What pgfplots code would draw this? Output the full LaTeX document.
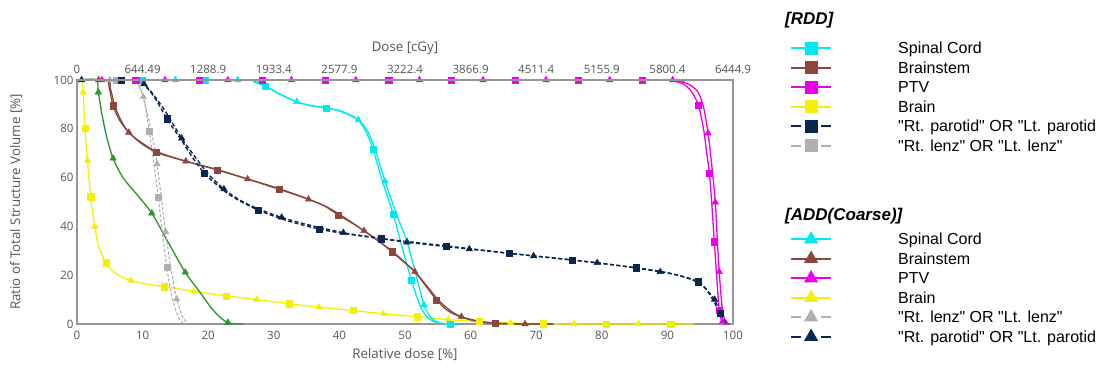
\documentclass[border=0pt]{standalone}
\usepackage{fontspec}
\setmainfont{Open Sans}
\newfontfamily\legfont{Liberation Sans}
\usepackage{pgfplots}
\pgfplotsset{compat=1.18}
\definecolor{cCyan}{RGB}{0,232,240}
\definecolor{cBrown}{RGB}{140,70,62}
\definecolor{cMag}{RGB}{236,0,236}
\definecolor{cYel}{RGB}{245,240,0}
\definecolor{cNavy}{RGB}{8,38,80}
\definecolor{cGray}{RGB}{175,175,175}
\definecolor{cGreen}{RGB}{40,150,40}
\definecolor{cTxt}{RGB}{85,85,85}
\definecolor{cAx}{RGB}{150,150,150}
\pgfplotsset{
  base/.style={scale only axis, width=656pt, height=244pt,
    xmin=0, xmax=100, ymin=0, ymax=100, clip=false,
    major tick length=0pt, /pgf/number format/assume math mode=true,
    tick label style={font=\fontsize{11.5}{13}\selectfont, text=cTxt},
    label style={font=\fontsize{13.3}{15}\selectfont, text=cTxt},
    axis line style={cAx, line width=1.2pt}},
  legcfg/.style={legend cell align=left,
    legend style={draw=none, fill=none, inner sep=0pt, outer sep=0pt, anchor=north west,
      font=\legfont\fontsize{16}{18}\selectfont, row sep=3.5pt,
      nodes={inner sep=0pt, text height=13.5pt, text depth=2.5pt},
      /tikz/every odd column/.append style={column sep=66pt}},
    legend image code/.code={\draw[mark repeat=2,mark phase=2,##1] plot coordinates {(0pt,0pt) (20pt,0pt) (40pt,0pt)};}},
  ln/.style={line width=1.3pt, smooth, tension=0.5, forget plot},
  mk/.style={only marks, mark size=#1, forget plot},
  sq/.style={mark=square*, mark size=3.1pt, only marks, forget plot},
  tr/.style={mark=triangle*, mark size=3.8pt, only marks, forget plot},
}
\begin{document}
\begin{tikzpicture}
\begin{axis}[base, legcfg,
  xtick={0,10,...,100}, ytick={0,20,...,100},
  xticklabel style={anchor=center, yshift=-11pt},
  xlabel={Relative dose [\%]}, ylabel={Ratio of Total Structure Volume [\%]},
  xlabel style={at={(axis description cs:0.5,-0.127)}, anchor=center},
  ylabel style={at={(axis description cs:-0.093,0.5)}, anchor=center},
  legend style={at={(1.0869,1.1627)}}]
% ---- Brain (yellow)
\addplot[ln, cYel] coordinates {(0,100) (0.7,100) (0.95,95) (1.2,80.2) (1.6,67) (2.08,52.2) (2.7,40) (3.4,31) (4.42,25.1) (5.5,21.5) (6.8,19.3) (8.2,17.8) (10.5,16.4) (13.3,15.3) (17.8,13.4) (22.8,11.5) (27.4,10.0) (32.4,8.3) (36.9,6.9) (42.1,5.5) (46.7,4.2) (51.8,3.0) (56.6,1.8) (61.3,1.0) (66.1,0.4) (71.1,0.15) (75.8,0) (94,0)};
\addplot[sq, cYel] coordinates {(1.2,80.2) (2.08,52.2) (4.42,25.1) (13.3,15.3) (22.8,11.5) (32.4,8.3) (42.1,5.5) (51.8,3.0) (61.3,1.0) (71.1,0.15) (80.7,0) (90.5,0)};
\addplot[tr, cYel] coordinates {(0.95,95) (1.6,67) (2.7,40) (8.2,17.8) (17.8,13.4) (27.4,10.0) (36.9,6.9) (46.7,4.2) (56.6,1.8) (66.1,0.4) (75.8,0) (85.6,0)};
% ---- green
\addplot[ln, cGreen] coordinates {(0,100) (2.9,100) (3.25,95) (3.8,86) (4.5,77) (5.5,67.9) (7,60) (9,53.5) (11.4,45.4) (14,33) (16.5,21.2) (18.75,13) (20.5,6.5) (22,2.3) (23,0.6) (24,0.1) (25.4,0)};
\addplot[tr, cGreen] coordinates {(3.25,95) (5.5,67.9) (11.4,45.4) (16.5,21.2) (23,0.6)};
% ---- lenz (gray dashed)
\addplot[ln, cGray, line width=1.1pt, dash pattern=on 3pt off 2pt] coordinates {(0,100) (8.0,100) (9.2,98.5) (10.2,92) (11.0,79.1) (11.7,66) (12.4,52) (13.0,37.5) (13.7,23.2) (14.4,12) (15.2,4.5) (15.8,1.2) (16.3,0)};
\addplot[ln, cGray, line width=1.1pt, dash pattern=on 3pt off 2pt] coordinates {(0,100) (8.6,100) (9.4,98) (10.1,93.1) (11.0,83) (11.7,74) (12.2,65.6) (12.9,51) (13.5,37.8) (14.3,23) (15.2,10.2) (16.2,2.5) (17.0,0)};
\addplot[sq, cGray] coordinates {(6.0,100) (11.0,79.1) (12.4,52) (13.7,23.2)};
\addplot[tr, cGray] coordinates {(5.0,100) (10.1,93.1) (12.2,65.6) (13.5,37.8) (15.2,10.2)};
% ---- Spinal cord (cyan)
\addplot[ln, cCyan] coordinates {(0,100) (26.2,100) (27.5,99) (28.7,97.5) (30.5,94.8) (32.5,92.2) (34.5,90.2) (36.2,89.2) (37.95,88.5) (40,87.5) (41.8,85.5) (42.9,83.6) (44,79) (45.1,71.8) (46.5,59) (48.2,45.1) (49.6,31) (51.0,17.8) (52.3,7.5) (53.5,2.5) (55,0.5) (56.9,0) (58,0)};
\addplot[ln, cCyan] coordinates {(0,100) (25.5,100) (27,99.2) (29,97) (31.5,93.5) (33.5,91.1) (35.5,89.6) (38,88.6) (40.5,86.8) (42.9,83.6) (44.3,79) (45.5,71) (46.95,58.5) (48.7,45) (50.3,33.8) (51.6,21) (52.9,7.8) (54,2.5) (55.5,0.3) (57,0)};
\addplot[sq, cCyan] coordinates {(9.9,100) (19.5,100) (28.7,97.5) (37.95,88.5) (45.1,71.8) (48.2,45.1) (51.0,17.8) (56.9,0)};
\addplot[tr, cCyan] coordinates {(15,100) (24.5,100) (33.5,91.1) (42.9,83.6) (46.95,58.5) (50.3,33.8) (52.9,7.8)};
% ---- Brainstem (brown)
\addplot[ln, cBrown] coordinates {(0,100) (4.4,100) (4.9,97) (5.5,89.5) (6.5,83.5) (7.9,78.5) (9.8,74) (12.1,70.3) (14.5,68.3) (16.6,66.7) (21.4,63.1) (26,59.4) (30.8,55.2) (35.3,51.1) (37.8,48.3) (39.8,44.7) (41.8,41.6) (43.75,38.2) (46,34) (48,29.6) (50,25) (51.5,21.4) (53.2,15.5) (54.8,9.8) (56.5,5.5) (58.6,2.8) (61,1.1) (63.7,0.3) (68.3,0) (72.6,0)};
\addplot[ln, cBrown] coordinates {(0,100) (4.6,100) (5.1,96.5) (5.8,89) (6.8,83) (7.9,78.5) (9.9,74.2) (12.2,70.6) (16.6,66.7) (21.4,63.3) (26,59.4) (30.8,55.5) (35.3,51.1) (37.9,48.2) (40,45) (43.75,38.2) (46.2,33.5) (48.3,29.3) (51.5,21.4) (53.5,15) (55.2,9.5) (56.9,5.5) (58.6,3.0) (61.2,1.2) (64,0.3) (68.3,0) (72.6,0)};
\addplot[sq, cBrown] coordinates {(5.5,89.5) (12.1,70.3) (21.4,63.1) (30.8,55.2) (39.8,44.7) (48,29.6) (54.8,9.8) (63.7,0.3)};
\addplot[tr, cBrown] coordinates {(3.3,100) (7.9,78.5) (16.6,66.7) (26,59.4) (35.3,51.1) (43.75,38.2) (51.5,21.4) (58.6,3.0) (68.3,0)};
% ---- PTV (magenta)
\addplot[ln, cMag] coordinates {(0,100) (88,100) (90.5,99.7) (92.3,98.5) (93.6,95.5) (94.7,89.8) (95.5,80) (96,70) (96.4,61.8) (96.8,48) (97.15,33.7) (97.5,20) (97.9,5.5) (98.3,1) (98.8,0) (99.5,0)};
\addplot[ln, cMag] coordinates {(0,100) (89,100) (91.5,99.6) (93.2,98.3) (94.6,95.3) (95.5,89) (96.2,78.2) (96.8,64) (97.3,49.9) (97.6,35) (97.9,21.4) (98.3,8) (98.7,2) (99.3,0)};
\addplot[sq, cMag] coordinates {(8.95,100) (18.6,100) (28.2,100) (37.8,100) (47.5,100) (57.1,100) (66.8,100) (76.4,100) (86.1,100) (94.7,89.8) (96.4,61.8) (97.15,33.7) (97.9,5.5)};
\addplot[tr, cMag] coordinates {(3.8,100) (13.4,100) (23,100) (32.7,100) (42.5,100) (52.2,100) (61.9,100) (71.5,100) (81.2,100) (90.8,100) (96.2,78.2) (97.3,49.9) (97.9,21.4) (98.4,1)};
% ---- parotid (navy dashed)
\addplot[ln, cNavy, line width=1.4pt, dash pattern=on 4pt off 2.5pt] coordinates {(0,100) (6.7,100) (8.5,99.8) (10,98.5) (11.8,93) (13.7,84.1) (16,75) (17.8,67.5) (19.4,61.8) (21,57.8) (23.5,52.5) (27.6,46.7) (32,42.4) (36.9,38.9) (41,37) (46.4,35) (51,33.6) (56.3,32) (65.9,29) (75.5,26.2) (85.2,23.1) (90,21) (93,19) (94.7,17.3) (96,14) (97.1,9) (98,4.5) (98.6,1.5) (99.1,0)};
\addplot[ln, cNavy, line width=1.4pt, dash pattern=on 4pt off 2.5pt] coordinates {(0,100) (9,100) (10.2,98.4) (11.5,94.5) (13.5,87) (15.96,76.1) (18,68.5) (20,61.5) (22.4,55.3) (25,50.5) (28,46.8) (31.2,43.7) (35,40.8) (40.6,37.4) (45,35.6) (50.3,33.5) (59.8,30.7) (69.6,27.9) (79.3,25.1) (88.9,21.4) (92.5,19.3) (95,16.5) (96.3,13) (97.2,10) (98.2,4) (98.8,1.2) (99.4,0)};
\addplot[sq, cNavy] coordinates {(6.7,100) (13.7,84.1) (19.4,61.8) (27.6,46.7) (36.9,38.9) (46.4,35) (56.3,32) (65.9,29) (75.5,26.2) (85.2,23.1) (94.7,17.3) (98,4.5)};
\addplot[tr, cNavy] coordinates {(0.7,100) (10.2,98.4) (15.96,76.1) (22.4,55.3) (31.2,43.7) (40.6,37.4) (50.3,33.5) (59.8,30.7) (69.6,27.9) (79.3,25.1) (88.9,21.4) (97.2,10)};
% ---- RDD legend
\addlegendimage{cCyan, line width=2.2pt, mark=square*, mark size=5.3pt}
\addlegendentry{Spinal Cord}
\addlegendimage{cBrown, line width=2.2pt, mark=square*, mark size=5.3pt}
\addlegendentry{Brainstem}
\addlegendimage{cMag, line width=2.2pt, mark=square*, mark size=5.3pt}
\addlegendentry{PTV}
\addlegendimage{cYel, line width=2.2pt, mark=square*, mark size=5.3pt}
\addlegendentry{Brain}
\addlegendimage{cNavy, line width=2.2pt, dash pattern=on 10pt off 20pt, mark=square*, mark size=5.3pt, mark options={solid}}
\addlegendentry{"Rt. parotid" OR "Lt. parotid}
\addlegendimage{cGray, line width=2.2pt, dash pattern=on 10pt off 20pt, mark=square*, mark size=5.3pt, mark options={solid}}
\addlegendentry{"Rt. lenz" OR "Lt. lenz"}
\node[anchor=base west, inner sep=0pt, font=\legfont\bfseries\itshape\fontsize{17}{20}\selectfont] at (axis description cs:1.0793,1.2254) {[RDD]};
\node[anchor=base west, inner sep=0pt, font=\legfont\bfseries\itshape\fontsize{17}{20}\selectfont] at (axis description cs:1.0793,0.425) {[ADD(Coarse)]};
\end{axis}
\begin{axis}[base, legcfg, axis x line*=top, axis y line=none,
  xtick={0,10,...,100},
  xticklabels={0,644.49,1288.9,1933.4,2577.9,3222.4,3866.9,4511.4,5155.9,5800.4,6444.9},
  xticklabel style={anchor=center, yshift=11pt},
  xlabel={Dose [cGy]},
  xlabel style={at={(axis description cs:0.5,1.131)}, anchor=center},
  legend style={at={(1.0869,0.380)}}]
\addlegendimage{cCyan, line width=2.2pt, mark=triangle*, mark size=6pt}
\addlegendentry{Spinal Cord}
\addlegendimage{cBrown, line width=2.2pt, mark=triangle*, mark size=6pt}
\addlegendentry{Brainstem}
\addlegendimage{cMag, line width=2.2pt, mark=triangle*, mark size=6pt}
\addlegendentry{PTV}
\addlegendimage{cYel, line width=2.2pt, mark=triangle*, mark size=6pt}
\addlegendentry{Brain}
\addlegendimage{cGray, line width=2.2pt, dash pattern=on 10pt off 20pt, mark=triangle*, mark size=6pt, mark options={solid}}
\addlegendentry{"Rt. lenz" OR "Lt. lenz"}
\addlegendimage{cNavy, line width=2.2pt, dash pattern=on 10pt off 20pt, mark=triangle*, mark size=6pt, mark options={solid}}
\addlegendentry{"Rt. parotid" OR "Lt. parotid}
\end{axis}
\pgfresetboundingbox
\path[use as bounding box] (-77pt,-45pt) rectangle (1025pt,324pt);
\end{tikzpicture}
\end{document}
